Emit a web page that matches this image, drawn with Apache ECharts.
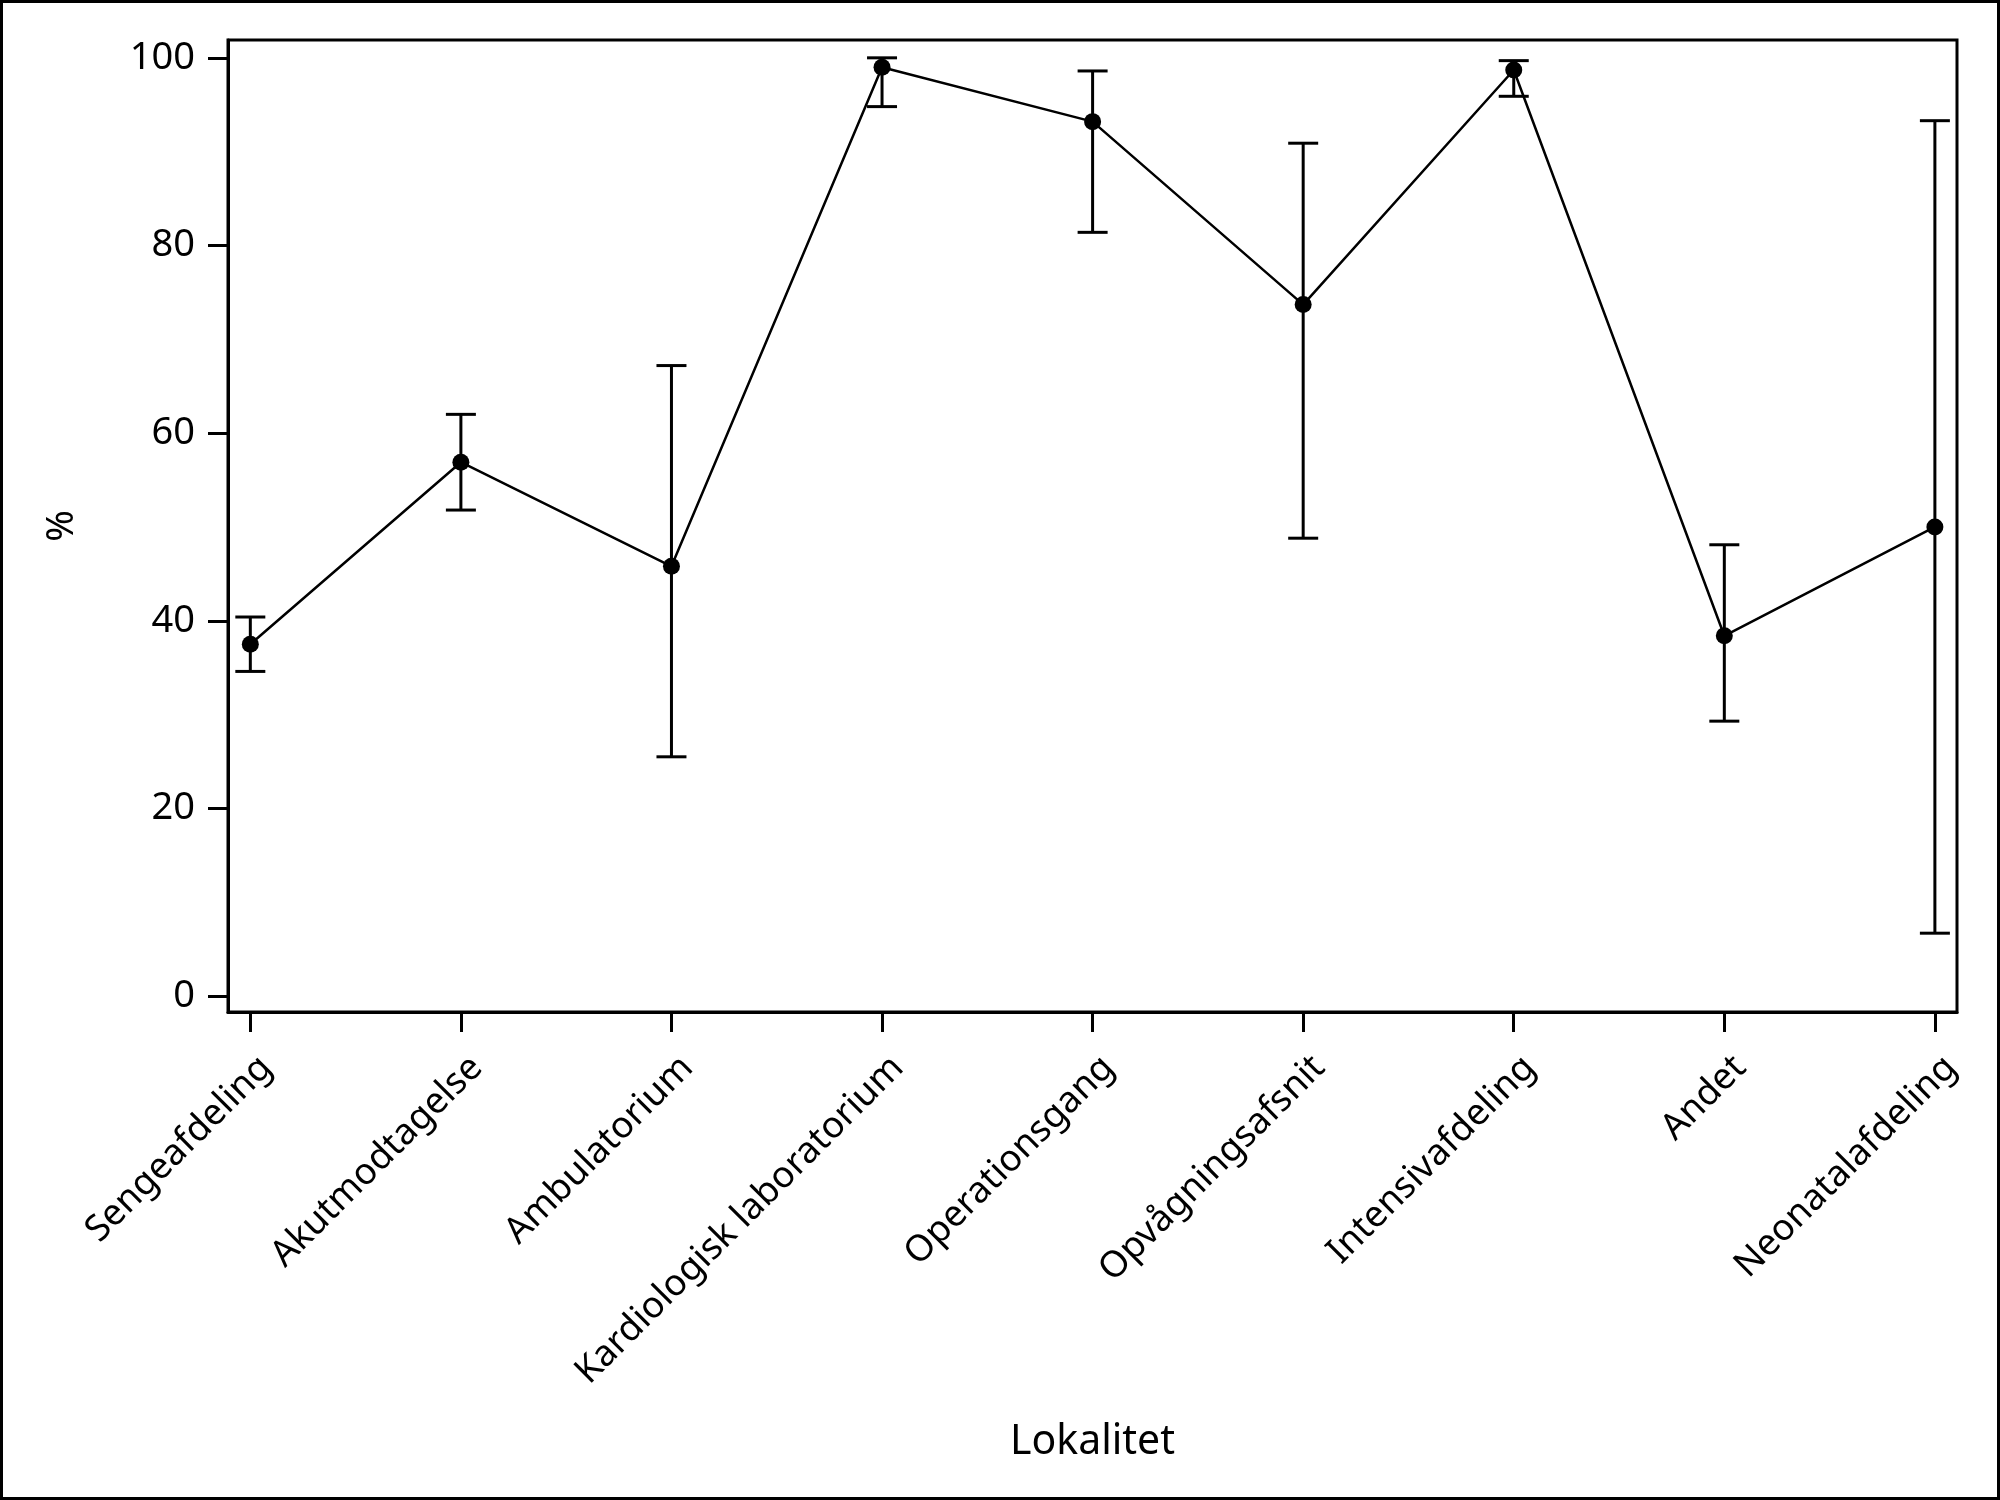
<!DOCTYPE html>
<html>
<head>
<meta charset="utf-8">
<script src="https://cdn.jsdelivr.net/npm/echarts@6/dist/echarts.min.js"></script>
<style>
html,body{margin:0;padding:0;background:#fff;}
#chart{width:2000px;height:1500px;}
</style>
</head>
<body>
<div id="chart"></div>
<script>
var categories = ["Sengeafdeling","Akutmodtagelse","Ambulatorium","Kardiologisk laboratorium","Operationsgang","Opvågningsafsnit","Intensivafdeling","Andet","Neonatalafdeling"];
var values = [37.5, 56.9, 45.8, 99.0, 93.2, 73.7, 98.7, 38.4, 50.0];
var lower  = [34.6, 51.8, 25.5, 94.8, 81.4, 48.8, 95.9, 29.3, 6.7];
var upper  = [40.4, 62.0, 67.2, 100.0, 98.6, 90.9, 99.7, 48.1, 93.3];
var yTicks = [0, 20, 40, 60, 80, 100];
var xTicks = [0, 1, 2, 3, 4, 5, 6, 7, 8];

var FONT = "Noto Sans";
var LABEL_SHIFT = 0.075;
var chart = echarts.init(document.getElementById('chart'), null, {renderer:'canvas'});

var lineData = values.map(function(v,i){ return [i, v]; });
var errData = values.map(function(v,i){ return [i, lower[i], upper[i]]; });
var xLabelPos = xTicks.map(function(t){ return t + LABEL_SHIFT; });

var option = {
  backgroundColor: '#fff',
  animation: false,
  graphic: [{
    type: 'rect',
    shape: {x: 1.5, y: 1.5, width: 1997, height: 1497},
    style: {fill: 'none', stroke: '#000', lineWidth: 3},
    silent: true
  }],
  grid: {
    left: 228, right: 43, top: 40, bottom: 488,
    show: true, borderColor: '#000', borderWidth: 3, backgroundColor: 'transparent'
  },
  xAxis: {
    type: 'value',
    min: -0.106, max: 8.105,
    name: 'Lokalitet',
    nameLocation: 'middle',
    nameGap: 410,
    nameMoveOverlap: false,
    nameTextStyle: {fontFamily: FONT, fontSize: 41, color: '#000'},
    axisLine: {show: true, onZero: false, lineStyle: {color: '#000', width: 3}},
    axisTick: {show: true, length: 20, lineStyle: {color: '#000', width: 3}, customValues: xTicks},
    splitLine: {show: false},
    axisLabel: {
      customValues: xLabelPos,
      rotate: 45,
      margin: 50,
      fontFamily: FONT, fontSize: 36.5, color: '#000',
      formatter: function(v){ return categories[Math.round(v)]; }
    }
  },
  yAxis: {
    type: 'value',
    min: -1.7, max: 101.9,
    name: '%',
    nameLocation: 'middle',
    nameRotate: 90,
    nameGap: 147,
    nameMoveOverlap: false,
    nameTextStyle: {fontFamily: FONT, fontSize: 38, color: '#000'},
    axisLine: {show: true, onZero: false, lineStyle: {color: '#000', width: 3}},
    axisTick: {show: true, length: 20, lineStyle: {color: '#000', width: 3}, customValues: yTicks},
    splitLine: {show: false},
    axisLabel: {
      customValues: yTicks,
      margin: 33,
      fontFamily: FONT, fontSize: 38, color: '#000'
    }
  },
  series: [
    {
      type: 'custom',
      data: errData,
      z: 2,
      renderItem: function(params, api){
        var x = api.value(0);
        var lo = api.coord([x, api.value(1)]);
        var hi = api.coord([x, api.value(2)]);
        var hw = 15;
        var st = {stroke: '#000', lineWidth: 3, fill: null};
        return {
          type: 'group',
          children: [
            {type: 'line', shape: {x1: lo[0], y1: lo[1], x2: hi[0], y2: hi[1]}, style: st},
            {type: 'line', shape: {x1: lo[0]-hw, y1: lo[1], x2: lo[0]+hw, y2: lo[1]}, style: st},
            {type: 'line', shape: {x1: hi[0]-hw, y1: hi[1], x2: hi[0]+hw, y2: hi[1]}, style: st}
          ]
        };
      }
    },
    {
      type: 'line',
      data: lineData,
      z: 3,
      symbol: 'circle',
      symbolSize: 17,
      showAllSymbol: true,
      itemStyle: {color: '#000', borderWidth: 0},
      lineStyle: {color: '#000', width: 2.5}
    }
  ]
};
chart.setOption(option);
</script>
</body>
</html>
